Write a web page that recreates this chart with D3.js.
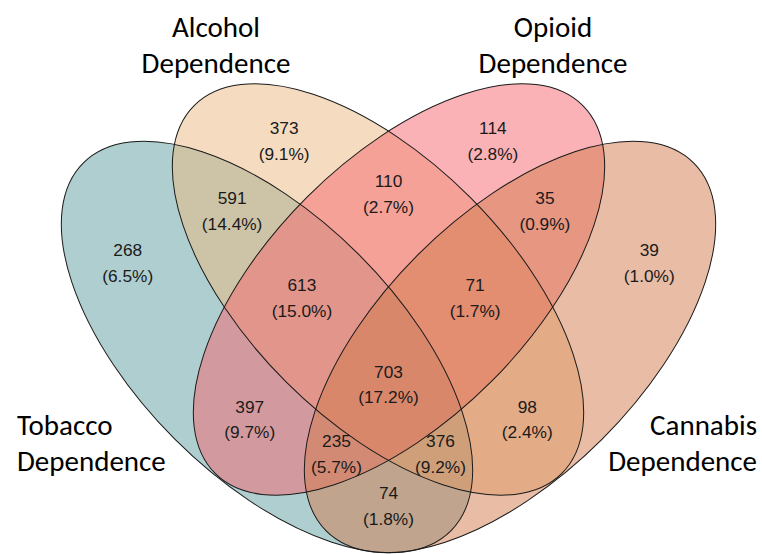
<!DOCTYPE html>
<html>
<head>
<meta charset="utf-8">
<script src="https://cdn.jsdelivr.net/npm/d3@7/dist/d3.min.js"></script>
<style>
  html, body { margin: 0; padding: 0; background: #ffffff; }
  svg { display: block; }
</style>
</head>
<body>
<div id="chart"></div>
<script>
// ---------- DATA ----------
const setNames = ["Tobacco", "Alcohol", "Opioid", "Cannabis"];
const setSuffix = ["Dependence", "Dependence", "Dependence", "Dependence"];
const regionKeys = ["T", "A", "O", "C", "TA", "AO", "OC", "TAO", "AOC", "TAOC", "TO", "AC", "TOC", "TAC", "TC"];
const regionCounts = [268, 373, 114, 39, 591, 110, 35, 613, 71, 703, 397, 98, 235, 376, 74];
const regionPercents = ["6.5%", "9.1%", "2.8%", "1.0%", "14.4%", "2.7%", "0.9%", "15.0%", "1.7%", "17.2%", "9.7%", "2.4%", "5.7%", "9.2%", "1.8%"];

// ---------- LAYOUT (venn units) ----------
const W = 762, H = 554;
const ellipseLayout = [
  { cx: -0.30375, cy: 0.1175,   a: 0.65, b: 0.326, rot: 45,  fill: "rgb(95,158,160)" },
  { cx: -0.02625, cy: -0.02625, a: 0.65, b: 0.326, rot: 45,  fill: "rgb(236,186,129)" },
  { cx: 0.02625,  cy: -0.02625, a: 0.65, b: 0.326, rot: -45, fill: "rgb(245,101,109)" },
  { cx: 0.30375,  cy: 0.1175,   a: 0.65, b: 0.326, rot: -45, fill: "rgb(209,122,76)" }
];
const regionLayout = {
  T: [-0.652, -0.093], A: [-0.261, -0.3975], O: [0.261, -0.3975], C: [0.652, -0.093],
  TA: [-0.391, -0.2225], AO: [0, -0.266], OC: [0.391, -0.2225],
  TAO: [-0.2165, -0.006], AOC: [0.2165, -0.006], TAOC: [0, 0.2105],
  TO: [-0.347, 0.298], AC: [0.347, 0.298], TOC: [-0.130, 0.385], TAC: [0.130, 0.385], TC: [0, 0.515]
};
const setLabelLayout = [
  { x: -0.92875, y: 0.335,  anchor: "start" },
  { x: -0.43125, y: -0.66,  anchor: "middle" },
  { x: 0.41125,  y: -0.66,  anchor: "middle" },
  { x: 0.92125,  y: 0.335,  anchor: "end" }
];

const sx = d3.scaleLinear().domain([-1, 1]).range([388.5 - 400, 388.5 + 400]);
const sy = d3.scaleLinear().domain([-1, 1]).range([300 - 400, 300 + 400]);
const len = v => sx(v) - sx(0);

const svg = d3.select("#chart").append("svg")
  .attr("width", W).attr("height", H)
  .attr("viewBox", `0 0 ${W} ${H}`);

// fills
svg.append("g").selectAll("ellipse")
  .data(ellipseLayout).join("ellipse")
  .attr("rx", d => len(d.a)).attr("ry", d => len(d.b))
  .attr("transform", d => `translate(${sx(d.cx)},${sy(d.cy)}) rotate(${d.rot})`)
  .attr("fill", d => d.fill).attr("fill-opacity", 0.5)
  .attr("stroke", "none");

// outlines
svg.append("g").selectAll("ellipse")
  .data(ellipseLayout).join("ellipse")
  .attr("rx", d => len(d.a)).attr("ry", d => len(d.b))
  .attr("transform", d => `translate(${sx(d.cx)},${sy(d.cy)}) rotate(${d.rot})`)
  .attr("fill", "none").attr("stroke", "#1a1a1a").attr("stroke-width", 1);

// region labels
const regions = regionKeys.map((k, i) => ({ key: k, count: regionCounts[i], pct: regionPercents[i] }));
const rg = svg.append("g")
  .attr("font-family", "'Liberation Sans', Arial, Helvetica, sans-serif")
  .attr("font-size", 17.3).attr("fill", "#1a1a1a").attr("text-anchor", "middle");
const lab = rg.selectAll("g").data(regions).join("g")
  .attr("transform", d => `translate(${sx(regionLayout[d.key][0])},${sy(regionLayout[d.key][1])})`);
lab.append("text").attr("y", -6.6).text(d => d.count);
lab.append("text").attr("y", 19.0).text(d => `(${d.pct})`);

// set labels
const sg = svg.append("g")
  .attr("font-family", "Carlito, Calibri, 'Open Sans', sans-serif")
  .attr("font-size", 29).attr("fill", "#000");
setNames.forEach((n, i) => {
  const L = setLabelLayout[i];
  const t = sg.append("text").attr("text-anchor", L.anchor)
    .attr("x", sx(L.x)).attr("y", sy(L.y) + 0.5);
  t.append("tspan").attr("x", sx(L.x)).text(n);
  t.append("tspan").attr("x", sx(L.x)).attr("dy", 36.8).text(setSuffix[i]);
});
</script>
</body>
</html>
